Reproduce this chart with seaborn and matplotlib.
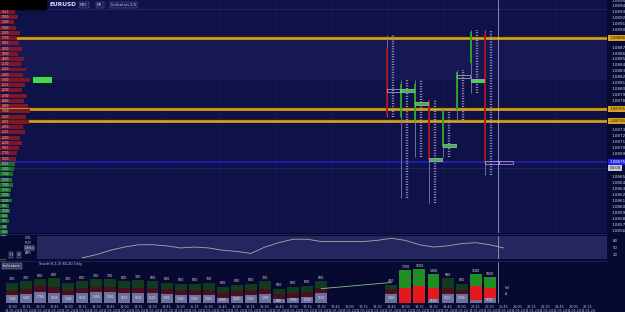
import numpy as np
import pandas as pd
import matplotlib
matplotlib.use("Agg")
import matplotlib.pyplot as plt
import matplotlib.transforms as mtransforms
from matplotlib.patches import Rectangle
import seaborn as sns

sns.set_theme(style="dark")
plt.rcParams['font.family'] = ['DejaVu Sans']

# ---------------- data ----------------
symbol = "EURUSD"
header_tags = ["M15", "M5", "Indicators 5/2"]

price_ticks = [1.0856, 1.0857, 1.0858, 1.0859, 1.0860, 1.0861, 1.0862, 1.0863, 1.0864, 1.0865,
               1.0866, 1.0867, 1.0868, 1.0869, 1.0870, 1.0871, 1.0872, 1.0873, 1.0874, 1.0875,
               1.0876, 1.0877, 1.0878, 1.0879, 1.0880, 1.0881, 1.0882, 1.0883, 1.0884, 1.0885,
               1.0886, 1.0887, 1.0888, 1.0889, 1.0890, 1.0891, 1.0892, 1.0893, 1.0894, 1.0895]
gold_levels = [1.08886, 1.08765, 1.08745]
last_price = 1.08675
value_area = [1.08814, 1.08882]
timer_label = "04:08"

candle_slots = [27, 28, 29, 30, 31, 32, 33, 34]
candle_open = [1.08870, 1.08752, 1.08747, 1.08780, 1.08701, 1.08764, 1.08843, 1.08894]
candle_high = [1.08891, 1.08814, 1.08814, 1.08780, 1.08767, 1.08831, 1.08899, 1.08899]
candle_low = [1.08752, 1.08614, 1.08684, 1.08606, 1.08684, 1.08747, 1.08792, 1.08653]
candle_close = [1.08755, 1.08808, 1.08808, 1.08679, 1.08764, 1.08828, 1.08896, 1.08674]
candle_poc = [1.08796, 1.08796, 1.08775, 1.08680, 1.08704, 1.08821, 1.08814, 1.08674]
current_slot = 35
now_slot = 34.62

profile_vol = [1200, 1500, 1800, 1400, 1600, 2000, 1700, 1900, 2200, 1800,
               2400, 2100, 2600, 2300, 3000, 2500, 2200, 2700, 2400, 2800,
               3000, 2600, 2900, 2300, 2500, 2000, 2200, 1900, 1700, 1600,
               1500, 1400, 1300, 1200, 1300, 1100, 1000, 1200, 900, 1000,
               800, 900, 700, 800, 600, 700, 600, 500, 600, 500]
profile_poc_row = 14

osc_slots = list(range(5, 36))
osc_vals = [5, 19, 38, 52, 62, 62, 57, 48, 52, 48, 38, 33, 24, 52, 71, 86,
            86, 76, 76, 76, 76, 81, 90, 81, 62, 52, 57, 67, 71, 62, 48]

vol_slots = list(range(0, 23)) + [27, 28, 29, 30, 31, 32, 33, 34]
vol_gray = [800, 900, 1100, 1000, 800, 1000, 1100, 1100, 1000, 1000, 1000, 900, 800, 800,
            800, 500, 700, 800, 900, 400, 500, 600, 1000, 900, 0, 0, 400, 900, 900, 300, 500]
vol_sell = [500, 500, 600, 600, 500, 500, 500, 500, 500, 500, 500, 500, 500, 500,
            500, 500, 500, 500, 500, 500, 500, 500, 500, 500, 1500, 1700, 1100, 600, 400, 1400, 1000]
vol_buy = [700, 700, 600, 800, 700, 600, 700, 700, 600, 700, 600, 600, 600, 600,
           700, 600, 600, 600, 700, 500, 600, 600, 600, 400, 1700, 1600, 1300, 900, 600, 1100, 1000]
bright_slots = [28, 29, 30, 33, 34]
gap_line_slots = [22, 27]
gap_line_vals = [1400, 2000]

time_labels = ["12:00", "12:15", "12:30", "12:45", "13:00", "13:15", "13:30", "13:45",
               "14:00", "14:15", "14:30", "14:45", "15:00", "15:15", "15:30", "15:45",
               "16:00", "16:15", "16:30", "16:45", "17:00", "17:15", "17:30", "17:45",
               "18:00", "18:15", "18:30", "18:45", "19:00", "19:15", "19:30", "19:45",
               "20:00", "20:15", "20:30", "20:45", "21:00", "21:15", "21:30", "21:45",
               "22:00", "22:15"]
date_label = "14.05.24"
osc_legend = ["VOL", "POC", "Delta", "ATR"]
osc_title = "Stoch(9,3,3) 80,20 Only"

# ---------------- style ----------------
W, H = 625, 312
BG = '#0f1149'
BG_DARK = '#080930'
TXT = '#c9cbef'
XLIM = (-0.854, 42.35)

fig = plt.figure(figsize=(6.25, 3.12), dpi=100, facecolor=BG_DARK)


def px_axes(x0, y0, x1, y1):
    a = fig.add_axes([x0 / W, 1 - y1 / H, (x1 - x0) / W, (y1 - y0) / H])
    for s in a.spines.values():
        s.set_visible(False)
    a.grid(False)
    return a


# ---------- main price panel ----------
ax = px_axes(0, 0, 607, 233)
ax.set_facecolor(BG)
ax.set_xlim(XLIM)
ax.set_ylim(1.08555, 1.0895)
ax.set_xticks([])
ax.yaxis.tick_right()
highlight = gold_levels + [last_price, last_price - 0.00010]
shown_ticks = [p for p in price_ticks if min(abs(p - h) for h in highlight) > 0.00006]
ax.set_yticks(shown_ticks)
ax.set_yticklabels([f"{p:.4f}" for p in shown_ticks], fontsize=3.0, color=TXT)
ax.tick_params(axis='y', length=0, pad=3)
ax.axhspan(value_area[0], value_area[1], color='#151853', zorder=0, lw=0)
for xv in np.arange(2.7, 42, 4):
    ax.axvline(xv, color='#171a55', lw=0.5, zorder=0.5)
ax.axhline(1.08935, color='#22256a', lw=0.6, zorder=0.5)
ax.axhline(1.08665, color='#22256a', lw=0.6, zorder=0.5)

blend = mtransforms.blended_transform_factory(ax.transAxes, ax.transData)
for lv in gold_levels:
    ax.axhline(lv, color='#2e2106', lw=3.0, zorder=3)
    ax.axhline(lv, color='#d6a226', lw=1.9, zorder=4)
    ax.text(1.004, lv, f"{lv:.5f}", transform=blend, fontsize=2.8, color='#2a1c00',
            va='center', ha='left', clip_on=False,
            bbox=dict(boxstyle='square,pad=0.25', fc='#d6a226', ec='none'))
ax.axhline(last_price, color='#2323c8', lw=1.1, zorder=3)
ax.text(1.004, last_price, f"{last_price:.5f}", transform=blend, fontsize=2.8, color='white',
        va='center', ha='left', clip_on=False,
        bbox=dict(boxstyle='square,pad=0.25', fc='#2424e6', ec='none'))
ax.text(1.004, last_price - 0.00010, timer_label, transform=blend, fontsize=2.8, color='#20224a',
        va='center', ha='left', clip_on=False,
        bbox=dict(boxstyle='square,pad=0.25', fc='#c4c6d4', ec='none'))

cs = np.array(candle_slots)
o = np.array(candle_open)
c = np.array(candle_close)
body_cols = ['#2aa82a' if cc > oo else '#a8151d' for oo, cc in zip(o, c)]
ax.vlines(cs - 0.32, candle_low, candle_high, color='#7e80a8', lw=0.6, zorder=5)
ax.vlines(cs - 0.32, np.minimum(o, c), np.maximum(o, c), colors=body_cols, lw=1.3, zorder=6)
ax.vlines(cs + 0.12, candle_low, candle_high, color='#9c9fcc', lw=1.7,
          linestyles=[(0, (0.4, 0.7))], zorder=5)
poc_fill = ['none', '#2fbf2f', '#2fbf2f', '#2fbf2f', '#2fbf2f', 'none', '#35e035', 'none']
for s, p, f in zip(candle_slots, candle_poc, poc_fill):
    ax.add_patch(Rectangle((s - 0.32, p - 0.000027), 0.95, 0.000054, fc=f, ec='#b8b8c8',
                           lw=0.5, zorder=7))
ax.add_patch(Rectangle((current_slot - 0.32, last_price - 0.000027), 0.95, 0.000054,
                       fc='none', ec='#d3a0c4', lw=0.5, zorder=7))
ax.axvline(now_slot, color='#c8c8dc', lw=0.45, zorder=8)

# ---------- volume profile (left) ----------
axp = px_axes(0, 4, 60, 266)
axp.set_facecolor('none')
axp.patch.set_alpha(0)
prof_cols = ['#7d1626' if i < 30 else '#1c6e27' for i in range(len(profile_vol))]
axp.barh(range(len(profile_vol)), profile_vol, height=0.75, color=prof_cols, zorder=2,
         edgecolor='none', linewidth=0)
axp.barh(profile_poc_row, 1900, left=3300, height=1.0, color='#3de03d', zorder=2,
         edgecolor='none', linewidth=0)
for i, v in enumerate(profile_vol):
    axp.text(150, i, str(v), fontsize=2.1, color='#d6d6ea', va='center', ha='left', zorder=3)
axp.set_xlim(0, 6000)
axp.set_ylim(len(profile_vol) - 0.5, -0.5)
axp.axis('off')

# ---------- oscillator ----------
axo = px_axes(0, 236, 607, 259)
axo.set_facecolor(BG_DARK)
axo.add_patch(Rectangle((37 / 607, 0), 1 - 37 / 607, 1, transform=axo.transAxes,
                        color='#24275e', zorder=0, lw=0))
sns.lineplot(x=osc_slots, y=osc_vals, ax=axo, color='#b6a3a6', lw=0.6)
axo.set_xlim(XLIM)
axo.set_ylim(0, 100)
axo.set_xticks([])
axo.yaxis.tick_right()
axo.set_yticks([20, 50, 80])
axo.set_yticklabels(["20", "50", "80"], fontsize=2.8, color=TXT)
axo.tick_params(axis='y', length=0, pad=4)
axo.set_xlabel("")
axo.set_ylabel("")
axo.axvline(now_slot, color='#c8c8dc', lw=0.45)
for i, t in enumerate(osc_legend):
    fig.text(25 / W, 1 - (238 + i * 5) / H, t, fontsize=2.5, color=TXT, va='center',
             bbox=dict(boxstyle='square,pad=0.2', fc='#3a3c70' if t == 'Delta' else 'none', ec='none'))
fig.text(39 / W, 1 - 264 / H, osc_title, fontsize=2.6, color=TXT, va='center')
for lbl, xx in zip(["H", "E"], [11, 19]):
    fig.text(xx / W, 1 - 255 / H, lbl, fontsize=2.5, color='white', va='center', ha='center',
             bbox=dict(boxstyle='square,pad=0.3', fc='#1a1c4a', ec='#9a9cc0', lw=0.3))
fig.text(3 / W, 1 - 266 / H, "Indicators", fontsize=2.5, color='white', va='center',
         bbox=dict(boxstyle='square,pad=0.3', fc='#3a3c5c', ec='#9a9cc0', lw=0.3))

# ---------- volume panel ----------
axv = px_axes(0, 262, 607, 303)
axv.set_facecolor(BG_DARK)
vdf = pd.DataFrame({'slot': vol_slots, 'gray': vol_gray, 'sell': vol_sell, 'buy': vol_buy})
vdf['gs'] = vdf['gray'] + vdf['sell']
vdf['total'] = vdf['gs'] + vdf['buy']
vdf['bright'] = vdf['slot'].isin(bright_slots)
palettes = {True: ('#1f8f25', '#e3191b'), False: ('#123a1e', '#4a0f1c')}
for bright, sub in vdf.groupby('bright'):
    gcol, rcol = palettes[bright]
    for col, colour in (('total', gcol), ('gs', rcol), ('gray', '#6d709a')):
        sns.barplot(data=sub, x='slot', y=col, native_scale=True, color=colour, width=0.85,
                    errorbar=None, saturation=1, edgecolor='none', linewidth=0, ax=axv)
sns.lineplot(x=gap_line_slots, y=gap_line_vals, ax=axv, color='#7fc48a', lw=0.6)
for _, r in vdf.iterrows():
    axv.text(r['slot'], r['total'] + 120, str(int(r['buy'])), fontsize=2.3, color='#e6e6f2',
             ha='center', va='bottom')
    if r['gray'] >= 400:
        axv.text(r['slot'], r['gray'] / 2, str(int(r['gray'] + r['sell'])), fontsize=2.1,
                 color='#eef', ha='center', va='center')
axv.axvline(now_slot, color='#c8c8dc', lw=0.45)
axv.set_xlim(XLIM)
axv.set_ylim(0, 4000)
axv.set_yticks([])
axv.set_xlabel("")
axv.set_ylabel("")
axv.set_xticks(range(len(time_labels)))
axv.set_xticklabels([f"{t}\n{date_label}" for t in time_labels], fontsize=2.4, color='#b8bade',
                    linespacing=1.1)
axv.tick_params(axis='x', length=0, pad=1.5)
fig.text(505 / W, 1 - 288 / H, "Vol", fontsize=2.4, color=TXT, va='center')
fig.text(505 / W, 1 - 294 / H, "Δ", fontsize=2.4, color=TXT, va='center')

# separators
for yy in (233.5, 260.5):
    fig.add_artist(plt.Line2D([0, 607 / W], [1 - yy / H] * 2, color='#262a66', lw=0.5))

# ---------- header ----------
fig.add_artist(Rectangle((0, 1 - 9 / H), 46 / W, 9 / H, transform=fig.transFigure,
                         color='black', zorder=10))
fig.text(49 / W, 1 - 5 / H, symbol, fontsize=4.2, color='#dcdef5', weight='bold', va='center')
for t, xx in zip(header_tags, [80, 97, 111]):
    fig.text(xx / W, 1 - 5 / H, t, fontsize=2.6, color=TXT, va='center',
             bbox=dict(boxstyle='square,pad=0.35', fc='#1a1d55', ec='#6a6da0', lw=0.3))

fig.savefig("out.png", dpi=100, facecolor=fig.get_facecolor())
